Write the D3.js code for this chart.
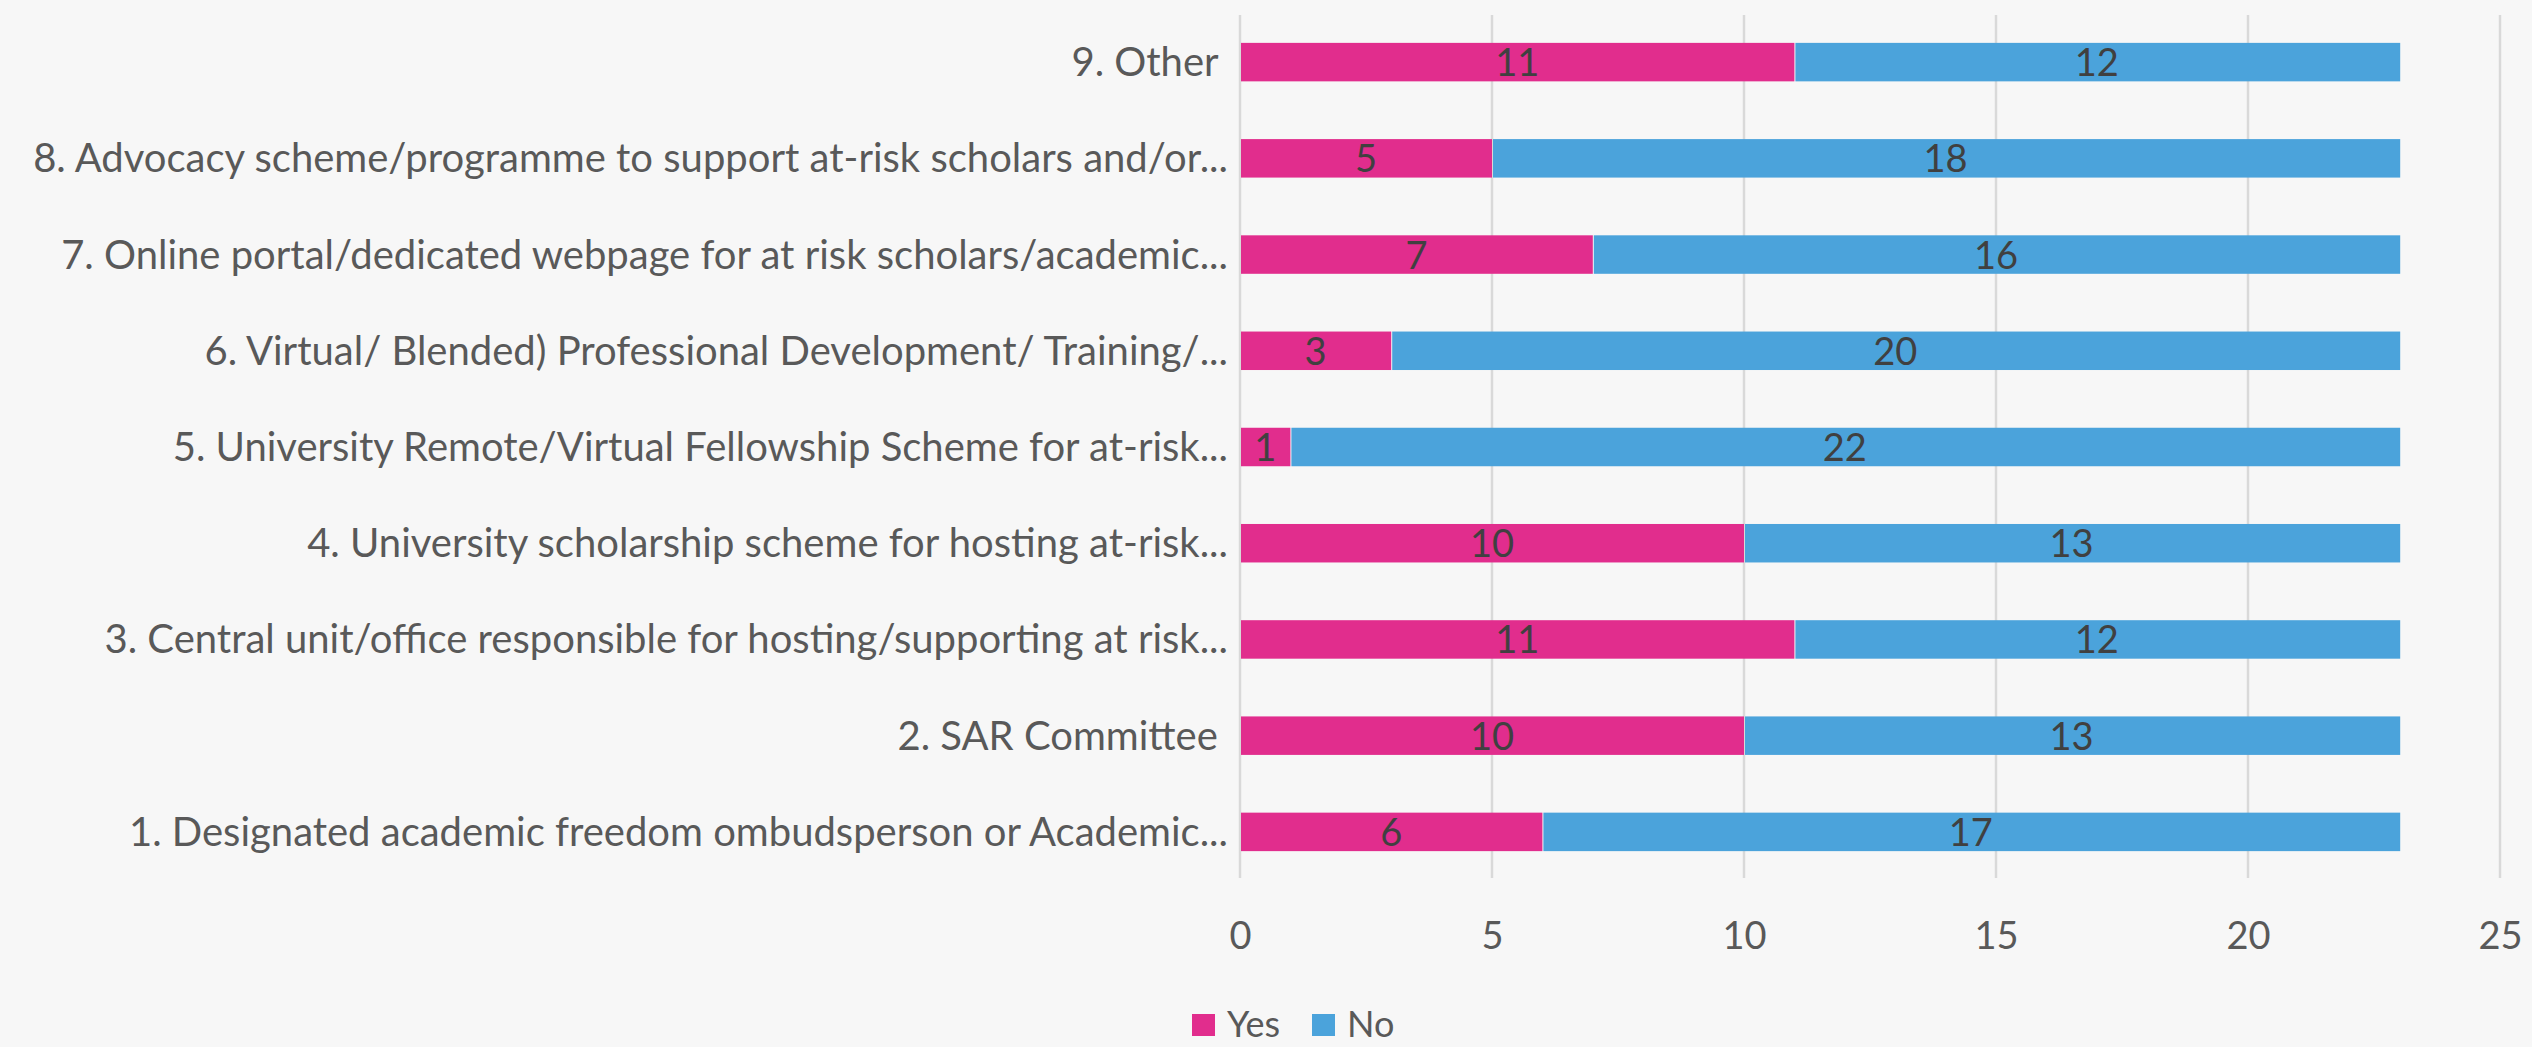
<!DOCTYPE html>
<html>
  <head>
    <meta charset="utf-8">
    <title>At-risk scholar support</title>
    <script src="https://d3js.org/d3.v7.min.js"></script>
    <style>
      html, body { margin: 0; padding: 0; background: #f7f7f7; }
      svg { display: block; font-family: Lato, "Open Sans", sans-serif; }
      .cat { fill: #595959; font-size: 40px; }
      .tick text { fill: #595959; font-size: 38px; }
      .val { fill: #404040; font-size: 38px; }
      .leg { fill: #595959; font-size: 36px; }
    </style>
  </head>
  <body>
    <svg id="chart" width="2532" height="1047"></svg>
    <script>
      // data, bottom to top
      var categories = [
        "1. Designated academic freedom ombudsperson or Academic...",
        "2. SAR Committee\u00a0",
        "3. Central unit/office responsible for hosting/supporting at risk...",
        "4. University scholarship scheme for hosting at-risk...",
        "5. University Remote/Virtual Fellowship Scheme for at-risk...",
        "6. Virtual/ Blended) Professional Development/ Training/...",
        "7. Online portal/dedicated webpage for at risk scholars/academic...",
        "8. Advocacy scheme/programme to support at-risk scholars and/or...",
        "9. Other\u00a0"
      ];
      var yes = [6, 10, 11, 10, 1, 3, 7, 5, 11];
      var no = [17, 13, 12, 13, 22, 20, 16, 18, 12];
      var seriesNames = ["Yes", "No"];
      var colours = ["#e12d8d", "#4ba3db"];
      var xTicks = [0, 5, 10, 15, 20, 25];

      var svg = d3.select("#chart");

      var x = d3.scaleLinear()
        .domain([0, 25])
        .range([1240, 2500]);
      var y = d3.scaleBand()
        .domain(categories.slice().reverse())
        .range([14, 880])
        .paddingInner(0.6)
        .paddingOuter(0.3);

      // gridlines
      svg.append("g")
        .selectAll("line")
          .data(xTicks)
        .enter().append("line")
          .attr("x1", function(d) { return x(d); })
          .attr("x2", function(d) { return x(d); })
          .attr("y1", 15)
          .attr("y2", 878)
          .attr("stroke", "#d9d9d9")
          .attr("stroke-width", 2.5);

      // tick labels
      var axis = d3.axisBottom(x)
        .tickValues(xTicks)
        .tickSize(0)
        .tickPadding(0);
      var axisGroup = svg.append("g")
        .attr("transform", "translate(0, 922)")
        .call(axis);
      axisGroup.select(".domain").remove();
      axisGroup.selectAll("text")
        .attr("dy", "0.72em")
        .style("font-family", "Lato, 'Open Sans', sans-serif");

      // stacked bars
      var rows = categories.map(function(c, i) {
        return { cat: c, values: [yes[i], no[i]] };
      });
      var segs = [];
      rows.forEach(function(r) {
        var start = 0;
        r.values.forEach(function(v, k) {
          segs.push({ cat: r.cat, k: k, x0: start, x1: start + v, v: v });
          start += v;
        });
      });

      svg.append("g")
        .selectAll("rect")
          .data(segs)
        .enter().append("rect")
          .attr("x", function(d) { return x(d.x0) + 1; })
          .attr("width", function(d) { return x(d.x1) - x(d.x0) - (d.k === 0 ? 1 : 0); })
          .attr("y", function(d) { return y(d.cat); })
          .attr("height", y.bandwidth())
          .attr("fill", function(d) { return colours[d.k]; });

      svg.append("g")
        .selectAll("text")
          .data(segs)
        .enter().append("text")
          .attr("class", "val")
          .attr("x", function(d) { return x((d.x0 + d.x1) / 2); })
          .attr("y", function(d) { return y(d.cat) + y.bandwidth() / 2 + 14; })
          .attr("text-anchor", "middle")
          .text(function(d) { return d.v; });

      // category labels
      svg.append("g")
        .selectAll("text")
          .data(categories)
        .enter().append("text")
          .attr("class", "cat")
          .attr("x", 1228)
          .attr("y", function(d) { return y(d) + y.bandwidth() / 2 + 14; })
          .attr("text-anchor", "end")
          .text(function(d) { return d; });

      // legend
      var legendX = [1192, 1312];
      var legend = svg.append("g")
        .selectAll("g")
          .data(seriesNames)
        .enter().append("g")
          .attr("transform", function(d, i) { return "translate(" + legendX[i] + ", 1014)"; });
      legend.append("rect")
        .attr("width", 23)
        .attr("height", 22)
        .attr("fill", function(d, i) { return colours[i]; });
      legend.append("text")
        .attr("class", "leg")
        .attr("x", 35)
        .attr("y", 23)
        .text(function(d) { return d; });
    </script>
  </body>
</html>
